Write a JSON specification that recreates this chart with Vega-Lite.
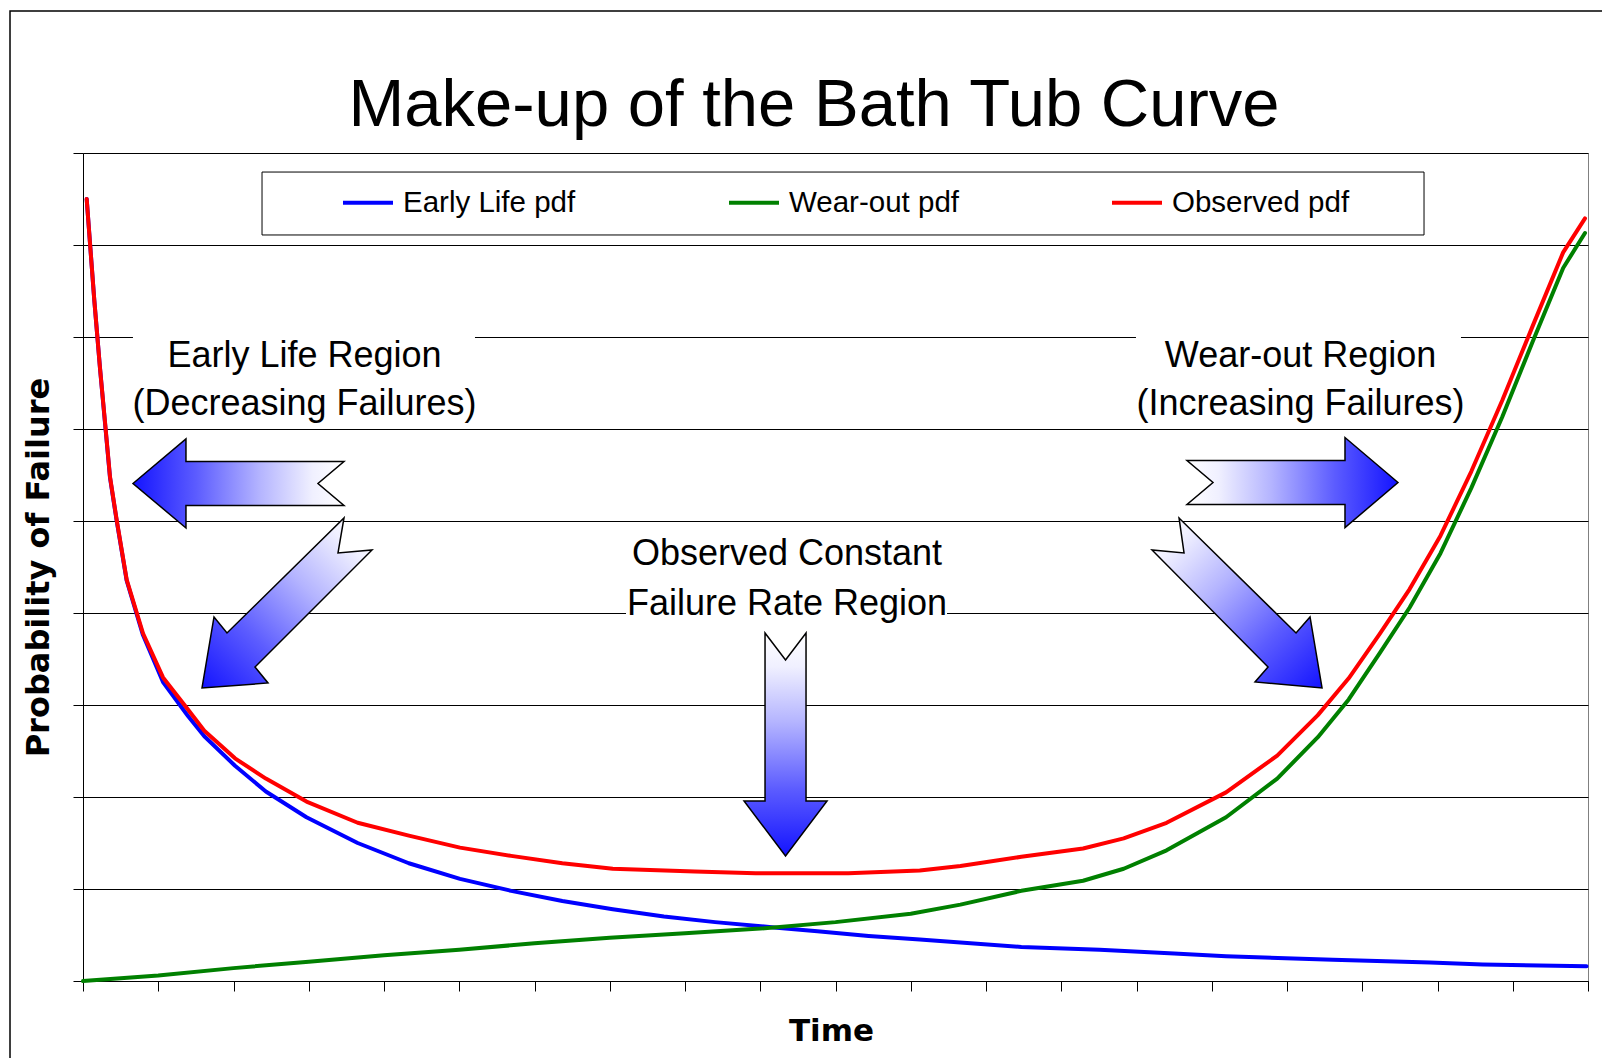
{
  "$schema": "https://vega.github.io/schema/vega-lite/v6.json",
  "width": 1505,
  "height": 828,
  "autosize": {"type": "none"},
  "padding": {"left": 83, "top": 153, "right": 14, "bottom": 77},
  "background": "white",
  "title": {
    "text": "Make-up of the Bath Tub Curve",
    "font": "Liberation Sans",
    "fontSize": 67,
    "fontWeight": "normal",
    "color": "#000000",
    "anchor": "middle",
    "frame": "group",
    "baseline": "alphabetic",
    "offset": 0,
    "dx": -21.5,
    "dy": 182.75
  },
  "datasets": {
    "curves": [
      {"series": "Early Life pdf", "t": 0.049, "p": 8.50},
      {"series": "Early Life pdf", "t": 0.150, "p": 7.40},
      {"series": "Early Life pdf", "t": 0.226, "p": 6.66},
      {"series": "Early Life pdf", "t": 0.292, "p": 6.07},
      {"series": "Early Life pdf", "t": 0.359, "p": 5.47},
      {"series": "Early Life pdf", "t": 0.448, "p": 5.00},
      {"series": "Early Life pdf", "t": 0.581, "p": 4.35},
      {"series": "Early Life pdf", "t": 0.797, "p": 3.76},
      {"series": "Early Life pdf", "t": 1.063, "p": 3.25},
      {"series": "Early Life pdf", "t": 1.395, "p": 2.88},
      {"series": "Early Life pdf", "t": 1.612, "p": 2.66},
      {"series": "Early Life pdf", "t": 2.02, "p": 2.34},
      {"series": "Early Life pdf", "t": 2.43, "p": 2.06},
      {"series": "Early Life pdf", "t": 2.97, "p": 1.78},
      {"series": "Early Life pdf", "t": 3.65, "p": 1.50},
      {"series": "Early Life pdf", "t": 4.33, "p": 1.28},
      {"series": "Early Life pdf", "t": 5.01, "p": 1.11},
      {"series": "Early Life pdf", "t": 5.69, "p": 0.98},
      {"series": "Early Life pdf", "t": 6.37, "p": 0.87},
      {"series": "Early Life pdf", "t": 7.04, "p": 0.78},
      {"series": "Early Life pdf", "t": 7.72, "p": 0.70},
      {"series": "Early Life pdf", "t": 8.40, "p": 0.64},
      {"series": "Early Life pdf", "t": 9.22, "p": 0.58},
      {"series": "Early Life pdf", "t": 9.76, "p": 0.54},
      {"series": "Early Life pdf", "t": 10.44, "p": 0.49},
      {"series": "Early Life pdf", "t": 11.12, "p": 0.45},
      {"series": "Early Life pdf", "t": 12.47, "p": 0.37},
      {"series": "Early Life pdf", "t": 13.51, "p": 0.34},
      {"series": "Early Life pdf", "t": 14.5, "p": 0.30},
      {"series": "Early Life pdf", "t": 15.19, "p": 0.27},
      {"series": "Early Life pdf", "t": 16.61, "p": 0.23},
      {"series": "Early Life pdf", "t": 17.9, "p": 0.20},
      {"series": "Early Life pdf", "t": 18.6, "p": 0.18},
      {"series": "Early Life pdf", "t": 19.98, "p": 0.16},
      {"series": "Wear-out pdf", "t": 0, "p": 0},
      {"series": "Wear-out pdf", "t": 1, "p": 0.06},
      {"series": "Wear-out pdf", "t": 2, "p": 0.14},
      {"series": "Wear-out pdf", "t": 3, "p": 0.21},
      {"series": "Wear-out pdf", "t": 4, "p": 0.28},
      {"series": "Wear-out pdf", "t": 5, "p": 0.34},
      {"series": "Wear-out pdf", "t": 6, "p": 0.41},
      {"series": "Wear-out pdf", "t": 7, "p": 0.47},
      {"series": "Wear-out pdf", "t": 8, "p": 0.52},
      {"series": "Wear-out pdf", "t": 9, "p": 0.57},
      {"series": "Wear-out pdf", "t": 10, "p": 0.64},
      {"series": "Wear-out pdf", "t": 11, "p": 0.73},
      {"series": "Wear-out pdf", "t": 11.66, "p": 0.83},
      {"series": "Wear-out pdf", "t": 12.47, "p": 0.98},
      {"series": "Wear-out pdf", "t": 13.29, "p": 1.09},
      {"series": "Wear-out pdf", "t": 13.83, "p": 1.22},
      {"series": "Wear-out pdf", "t": 14.4, "p": 1.42},
      {"series": "Wear-out pdf", "t": 15.19, "p": 1.78},
      {"series": "Wear-out pdf", "t": 15.87, "p": 2.20},
      {"series": "Wear-out pdf", "t": 16.41, "p": 2.65},
      {"series": "Wear-out pdf", "t": 16.82, "p": 3.06},
      {"series": "Wear-out pdf", "t": 17.23, "p": 3.56},
      {"series": "Wear-out pdf", "t": 17.63, "p": 4.06},
      {"series": "Wear-out pdf", "t": 18.04, "p": 4.65},
      {"series": "Wear-out pdf", "t": 18.45, "p": 5.36},
      {"series": "Wear-out pdf", "t": 18.86, "p": 6.13},
      {"series": "Wear-out pdf", "t": 19.26, "p": 6.94},
      {"series": "Wear-out pdf", "t": 19.67, "p": 7.75},
      {"series": "Wear-out pdf", "t": 19.96, "p": 8.13},
      {"series": "Observed pdf", "t": 0.049, "p": 8.50},
      {"series": "Observed pdf", "t": 0.150, "p": 7.40},
      {"series": "Observed pdf", "t": 0.226, "p": 6.66},
      {"series": "Observed pdf", "t": 0.292, "p": 6.08},
      {"series": "Observed pdf", "t": 0.359, "p": 5.48},
      {"series": "Observed pdf", "t": 0.448, "p": 5.01},
      {"series": "Observed pdf", "t": 0.581, "p": 4.36},
      {"series": "Observed pdf", "t": 0.797, "p": 3.78},
      {"series": "Observed pdf", "t": 1.063, "p": 3.30},
      {"series": "Observed pdf", "t": 1.395, "p": 2.95},
      {"series": "Observed pdf", "t": 1.612, "p": 2.72},
      {"series": "Observed pdf", "t": 2.02, "p": 2.42},
      {"series": "Observed pdf", "t": 2.43, "p": 2.20},
      {"series": "Observed pdf", "t": 2.97, "p": 1.95},
      {"series": "Observed pdf", "t": 3.65, "p": 1.72},
      {"series": "Observed pdf", "t": 4.33, "p": 1.58},
      {"series": "Observed pdf", "t": 5.01, "p": 1.45},
      {"series": "Observed pdf", "t": 5.69, "p": 1.36},
      {"series": "Observed pdf", "t": 6.37, "p": 1.28},
      {"series": "Observed pdf", "t": 7.04, "p": 1.22},
      {"series": "Observed pdf", "t": 8.13, "p": 1.19},
      {"series": "Observed pdf", "t": 8.94, "p": 1.17},
      {"series": "Observed pdf", "t": 10.17, "p": 1.17},
      {"series": "Observed pdf", "t": 11.12, "p": 1.20},
      {"series": "Observed pdf", "t": 11.66, "p": 1.25},
      {"series": "Observed pdf", "t": 12.47, "p": 1.35},
      {"series": "Observed pdf", "t": 13.29, "p": 1.44},
      {"series": "Observed pdf", "t": 13.83, "p": 1.55},
      {"series": "Observed pdf", "t": 14.4, "p": 1.72},
      {"series": "Observed pdf", "t": 15.19, "p": 2.05},
      {"series": "Observed pdf", "t": 15.87, "p": 2.45},
      {"series": "Observed pdf", "t": 16.41, "p": 2.89},
      {"series": "Observed pdf", "t": 16.82, "p": 3.29},
      {"series": "Observed pdf", "t": 17.23, "p": 3.77},
      {"series": "Observed pdf", "t": 17.63, "p": 4.26},
      {"series": "Observed pdf", "t": 18.04, "p": 4.84},
      {"series": "Observed pdf", "t": 18.45, "p": 5.54},
      {"series": "Observed pdf", "t": 18.86, "p": 6.31},
      {"series": "Observed pdf", "t": 19.26, "p": 7.11},
      {"series": "Observed pdf", "t": 19.67, "p": 7.92},
      {"series": "Observed pdf", "t": 19.96, "p": 8.29}
    ],
    "notes": [
      {"note": "Early Life Region", "t": 2.944, "p": 6.674},
      {"note": "(Decreasing Failures)", "t": 2.944, "p": 6.152},
      {"note": "Wear-out Region", "t": 16.18, "p": 6.674},
      {"note": "(Increasing Failures)", "t": 16.18, "p": 6.152},
      {"note": "Observed Constant", "t": 9.355, "p": 4.522},
      {"note": "Failure Rate Region", "t": 9.355, "p": 3.978}
    ],
    "boxes": [
      {"t": 0.664, "t2": 5.209, "p": 7.043, "p2": 6.076},
      {"t": 13.993, "t2": 18.312, "p": 7.043, "p2": 6.076},
      {"t": 7.216, "t2": 11.482, "p": 4.957, "p2": 3.967}
    ]
  },
  "layer": [
    {
      "data": {"values": [{}]},
      "mark": {"type": "rect", "fillOpacity": 0, "stroke": "#000000", "strokeWidth": 1.5},
      "encoding": {
        "x": {"datum": -0.97, "type": "quantitative", "title": "Time", "scale": {"domain": [0, 20], "nice": false, "zero": false}},
        "x2": {"datum": 22},
        "y": {"datum": 10.543, "type": "quantitative", "title": "Probability of Failure", "scale": {"domain": [0, 9], "nice": false, "zero": false}},
        "y2": {"datum": -2}
      }
    },
    {
      "data": {"values": [{}]},
      "mark": {"type": "rect", "fill": "#ffffff", "stroke": "#000000", "strokeWidth": 1},
      "encoding": {
        "x": {"datum": 2.379, "type": "quantitative", "title": "Time", "scale": {"domain": [0, 20], "nice": false, "zero": false}},
        "x2": {"datum": 17.821},
        "y": {"datum": 8.793, "type": "quantitative", "title": "Probability of Failure", "scale": {"domain": [0, 9], "nice": false, "zero": false}},
        "y2": {"datum": 8.109}
      }
    },
    {
      "data": {"name": "boxes"},
      "mark": {"type": "rect", "fill": "#ffffff", "strokeWidth": 0},
      "encoding": {
        "x": {"field": "t", "type": "quantitative", "title": "Time", "scale": {"domain": [0, 20], "nice": false, "zero": false}},
        "x2": {"field": "t2"},
        "y": {"field": "p", "type": "quantitative", "title": "Probability of Failure", "scale": {"domain": [0, 9], "nice": false, "zero": false}},
        "y2": {"field": "p2"}
      }
    },
    {
      "data": {"name": "curves"},
      "transform": [{"filter": "datum.series === 'Early Life pdf'"}],
      "mark": {"type": "line", "strokeWidth": 4, "strokeCap": "round", "strokeJoin": "round"},
      "encoding": {
        "x": {"field": "t", "type": "quantitative", "title": "Time", "scale": {"domain": [0, 20], "nice": false, "zero": false}},
        "y": {"field": "p", "type": "quantitative", "title": "Probability of Failure", "scale": {"domain": [0, 9], "nice": false, "zero": false}},
        "color": {
          "field": "series", "type": "nominal",
          "scale": {"domain": ["Early Life pdf", "Wear-out pdf", "Observed pdf"], "range": ["#0000ff", "#008000", "#ff0000"]},
          "legend": {"orient": "none", "legendX": 258, "legendY": 22.5, "direction": "horizontal", "title": null, "symbolType": "stroke", "symbolSize": 2500, "symbolStrokeWidth": 4, "labelFont": "Liberation Sans", "labelFontSize": 29.5, "labelColor": "#000000", "labelOffset": 8, "labelLimit": 400, "columnPadding": 145, "padding": 0}
        },
        "order": {"field": "t", "type": "quantitative"}
      }
    },
    {
      "data": {"name": "curves"},
      "transform": [{"filter": "datum.series === 'Wear-out pdf'"}],
      "mark": {"type": "line", "strokeWidth": 4, "strokeCap": "round", "strokeJoin": "round"},
      "encoding": {
        "x": {"field": "t", "type": "quantitative", "title": "Time", "scale": {"domain": [0, 20], "nice": false, "zero": false}},
        "y": {"field": "p", "type": "quantitative", "title": "Probability of Failure", "scale": {"domain": [0, 9], "nice": false, "zero": false}},
        "color": {
          "field": "series", "type": "nominal",
          "scale": {"domain": ["Early Life pdf", "Wear-out pdf", "Observed pdf"], "range": ["#0000ff", "#008000", "#ff0000"]},
          "legend": {"orient": "none", "legendX": 258, "legendY": 22.5, "direction": "horizontal", "title": null, "symbolType": "stroke", "symbolSize": 2500, "symbolStrokeWidth": 4, "labelFont": "Liberation Sans", "labelFontSize": 29.5, "labelColor": "#000000", "labelOffset": 8, "labelLimit": 400, "columnPadding": 145, "padding": 0}
        },
        "order": {"field": "t", "type": "quantitative"}
      }
    },
    {
      "data": {"name": "curves"},
      "transform": [{"filter": "datum.series === 'Observed pdf'"}],
      "mark": {"type": "line", "strokeWidth": 4, "strokeCap": "round", "strokeJoin": "round"},
      "encoding": {
        "x": {"field": "t", "type": "quantitative", "title": "Time", "scale": {"domain": [0, 20], "nice": false, "zero": false}},
        "y": {"field": "p", "type": "quantitative", "title": "Probability of Failure", "scale": {"domain": [0, 9], "nice": false, "zero": false}},
        "color": {
          "field": "series", "type": "nominal",
          "scale": {"domain": ["Early Life pdf", "Wear-out pdf", "Observed pdf"], "range": ["#0000ff", "#008000", "#ff0000"]},
          "legend": {"orient": "none", "legendX": 258, "legendY": 22.5, "direction": "horizontal", "title": null, "symbolType": "stroke", "symbolSize": 2500, "symbolStrokeWidth": 4, "labelFont": "Liberation Sans", "labelFontSize": 29.5, "labelColor": "#000000", "labelOffset": 8, "labelLimit": 400, "columnPadding": 145, "padding": 0}
        },
        "order": {"field": "t", "type": "quantitative"}
      }
    },
    {
      "data": {"values": [{}]},
      "mark": {
        "type": "point", "shape": "M -1.055 0 L -0.525 -0.445 L -0.525 -0.22 L 1.055 -0.22 L 0.795 0 L 1.055 0.22 L -0.525 0.22 L -0.525 0.445 Z",
        "size": 40000, "filled": true, "opacity": 1, "stroke": "#000000", "strokeWidth": 1.5,
        "fill": {"gradient": "linear", "x1": 1, "y1": 0, "x2": 0, "y2": 0, "stops": [{"offset": 0, "color": "#ffffff"}, {"offset": 0.15, "color": "#f0f0ff"}, {"offset": 0.4, "color": "#b4b4ff"}, {"offset": 0.7, "color": "#5c5cff"}, {"offset": 1, "color": "#1414ff"}]}
      },
      "encoding": {
        "x": {"datum": 2.066, "type": "quantitative", "title": "Time", "scale": {"domain": [0, 20], "nice": false, "zero": false}},
        "y": {"datum": 5.408, "type": "quantitative", "title": "Probability of Failure", "scale": {"domain": [0, 9], "nice": false, "zero": false}}
      }
    },
    {
      "data": {"values": [{}]},
      "mark": {
        "type": "point", "shape": "M 1.055 0 L 0.525 -0.45 L 0.525 -0.22 L -1.055 -0.22 L -0.795 0 L -1.055 0.22 L 0.525 0.22 L 0.525 0.45 Z",
        "size": 40000, "filled": true, "opacity": 1, "stroke": "#000000", "strokeWidth": 1.5,
        "fill": {"gradient": "linear", "x1": 0, "y1": 0, "x2": 1, "y2": 0, "stops": [{"offset": 0, "color": "#ffffff"}, {"offset": 0.15, "color": "#f0f0ff"}, {"offset": 0.4, "color": "#b4b4ff"}, {"offset": 0.7, "color": "#5c5cff"}, {"offset": 1, "color": "#1414ff"}]}
      },
      "encoding": {
        "x": {"datum": 16.073, "type": "quantitative", "title": "Time", "scale": {"domain": [0, 20], "nice": false, "zero": false}},
        "y": {"datum": 5.418, "type": "quantitative", "title": "Probability of Failure", "scale": {"domain": [0, 9], "nice": false, "zero": false}}
      }
    },
    {
      "data": {"values": [{}]},
      "mark": {
        "type": "point", "shape": "M 0.57 -0.85 L 0.51 -0.5 L 0.85 -0.53 L -0.32 0.64 L -0.19 0.8 L -0.85 0.85 L -0.73 0.14 L -0.6 0.3 Z",
        "size": 40000, "filled": true, "opacity": 1, "stroke": "#000000", "strokeWidth": 1.5,
        "fill": {"gradient": "linear", "x1": 1, "y1": 0, "x2": 0, "y2": 1, "stops": [{"offset": 0, "color": "#ffffff"}, {"offset": 0.15, "color": "#f0f0ff"}, {"offset": 0.4, "color": "#b4b4ff"}, {"offset": 0.7, "color": "#5c5cff"}, {"offset": 1, "color": "#1414ff"}]}
      },
      "encoding": {
        "x": {"datum": 2.711, "type": "quantitative", "title": "Time", "scale": {"domain": [0, 20], "nice": false, "zero": false}},
        "y": {"datum": 4.109, "type": "quantitative", "title": "Probability of Failure", "scale": {"domain": [0, 9], "nice": false, "zero": false}}
      }
    },
    {
      "data": {"values": [{}]},
      "mark": {
        "type": "point", "shape": "M -0.58 -0.85 L -0.53 -0.5 L -0.85 -0.53 L 0.31 0.64 L 0.18 0.79 L 0.85 0.85 L 0.73 0.14 L 0.59 0.3 Z",
        "size": 40000, "filled": true, "opacity": 1, "stroke": "#000000", "strokeWidth": 1.5,
        "fill": {"gradient": "linear", "x1": 0, "y1": 0, "x2": 1, "y2": 1, "stops": [{"offset": 0, "color": "#ffffff"}, {"offset": 0.15, "color": "#f0f0ff"}, {"offset": 0.4, "color": "#b4b4ff"}, {"offset": 0.7, "color": "#5c5cff"}, {"offset": 1, "color": "#1414ff"}]}
      },
      "encoding": {
        "x": {"datum": 15.336, "type": "quantitative", "title": "Time", "scale": {"domain": [0, 20], "nice": false, "zero": false}},
        "y": {"datum": 4.109, "type": "quantitative", "title": "Probability of Failure", "scale": {"domain": [0, 9], "nice": false, "zero": false}}
      }
    },
    {
      "data": {"values": [{}]},
      "mark": {
        "type": "point", "shape": "M -0.205 -1.115 L 0 -0.845 L 0.205 -1.115 L 0.205 0.565 L 0.415 0.565 L 0 1.115 L -0.415 0.565 L -0.205 0.565 Z",
        "size": 40000, "filled": true, "opacity": 1, "stroke": "#000000", "strokeWidth": 1.5,
        "fill": {"gradient": "linear", "x1": 0, "y1": 0, "x2": 0, "y2": 1, "stops": [{"offset": 0, "color": "#ffffff"}, {"offset": 0.15, "color": "#f0f0ff"}, {"offset": 0.4, "color": "#b4b4ff"}, {"offset": 0.7, "color": "#5c5cff"}, {"offset": 1, "color": "#1414ff"}]}
      },
      "encoding": {
        "x": {"datum": 9.336, "type": "quantitative", "title": "Time", "scale": {"domain": [0, 20], "nice": false, "zero": false}},
        "y": {"datum": 2.571, "type": "quantitative", "title": "Probability of Failure", "scale": {"domain": [0, 9], "nice": false, "zero": false}}
      }
    },
    {
      "data": {"name": "notes"},
      "mark": {"type": "text", "font": "Liberation Sans", "fontSize": 36, "align": "center", "baseline": "alphabetic", "color": "#000000"},
      "encoding": {
        "x": {"field": "t", "type": "quantitative", "title": "Time", "scale": {"domain": [0, 20], "nice": false, "zero": false}},
        "y": {"field": "p", "type": "quantitative", "title": "Probability of Failure", "scale": {"domain": [0, 9], "nice": false, "zero": false}},
        "text": {"field": "note", "type": "nominal"}
      }
    }
  ],
  "config": {
    "view": {"stroke": "#808080", "strokeWidth": 1},
    "axisX": {
      "tickCount": 20, "labels": false, "grid": false, "ticks": true, "tickSize": 10, "tickColor": "#000000", "tickWidth": 1,
      "domainColor": "#000000", "domainWidth": 1,
      "titleFont": "DejaVu Sans", "titleFontSize": 31, "titleFontWeight": "bold", "titleColor": "#000000",
      "titleX": 748, "titleY": 59, "titleBaseline": "alphabetic", "titleAlign": "center"
    },
    "axisY": {
      "tickCount": 9, "labels": false, "grid": true, "gridColor": "#000000", "gridWidth": 1, "gridOpacity": 1,
      "ticks": true, "tickSize": 10, "tickColor": "#000000", "tickWidth": 1,
      "domainColor": "#000000", "domainWidth": 1,
      "titleFont": "DejaVu Sans", "titleFontSize": 32, "titleFontWeight": "bold", "titleColor": "#000000",
      "titleX": -35, "titleY": 414, "titleAngle": 270, "titleBaseline": "alphabetic", "titleAlign": "center"
    }
  }
}
